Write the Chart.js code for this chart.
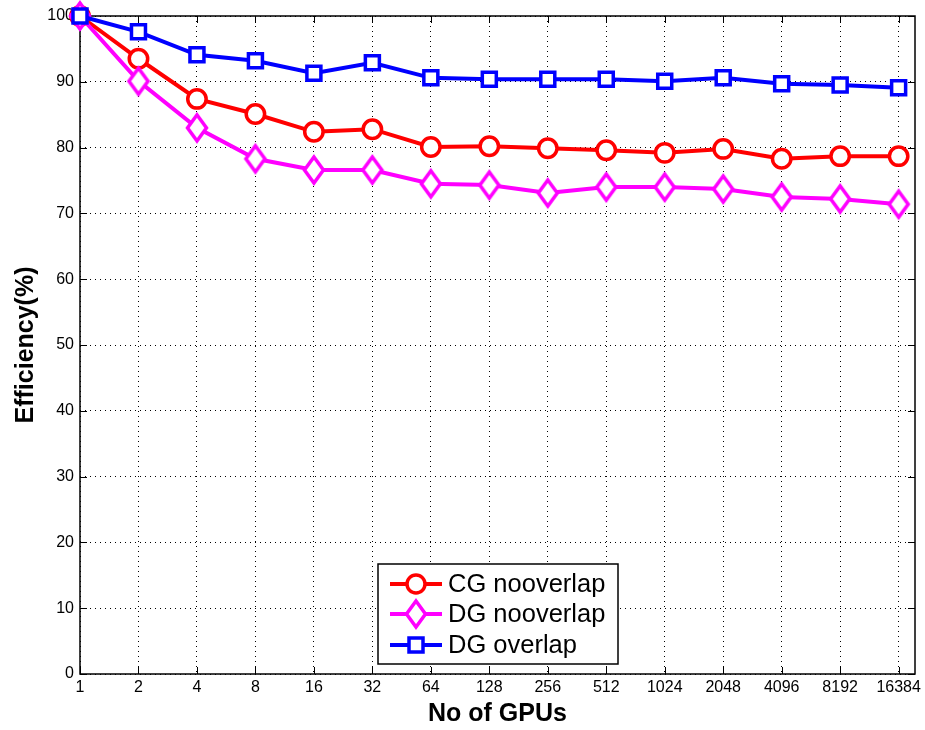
<!DOCTYPE html>
<html>
<head>
<meta charset="utf-8">
<script src="https://cdn.jsdelivr.net/npm/chart.js@4/dist/chart.umd.min.js"></script>
<style>
  body { margin: 0; background: #fff; }
  canvas { display: block; }
</style>
</head>
<body>
<canvas id="grafico" width="925" height="730"></canvas>
<script>
// dados
const gpus = ['1', '2', '4', '8', '16', '32', '64', '128', '256', '512', '1024', '2048', '4096', '8192', '16384'];
const cgNoOverlap = [100, 93.5, 87.4, 85.1, 82.4, 82.8, 80.1, 80.2, 79.9, 79.6, 79.2, 79.8, 78.3, 78.7, 78.7];
const dgNoOverlap = [100, 90.1, 83.0, 78.3, 76.6, 76.6, 74.5, 74.3, 73.1, 74.0, 74.0, 73.7, 72.5, 72.2, 71.4];
const dgOverlap = [100, 97.6, 94.1, 93.2, 91.3, 92.9, 90.6, 90.4, 90.4, 90.4, 90.1, 90.6, 89.7, 89.5, 89.1];
const yTicks = [0, 10, 20, 30, 40, 50, 60, 70, 80, 90, 100];

const FONT = "'Liberation Sans', Arial, sans-serif";

// losango alongado (estilo matlab)
function diamond(color) {
    const c = document.createElement('canvas');
    c.width = 28; c.height = 34;
    const g = c.getContext('2d');
    g.beginPath();
    g.moveTo(14, 4);
    g.lineTo(23.5, 17);
    g.lineTo(14, 30);
    g.lineTo(4.5, 17);
    g.closePath();
    g.fillStyle = '#fff';
    g.fill();
    g.lineWidth = 3.5;
    g.strokeStyle = color;
    g.stroke();
    return c;
}
const diamondImg = diamond('#ff00ff');

function pts(arr) {
    return arr.map((v, i) => ({ x: i, y: v }));
}

// moldura + marcas internas
const moldura = {
    id: 'moldura',
    beforeDatasetsDraw(chart) {
        const { ctx, chartArea: a, scales } = chart;
        ctx.save();
        ctx.strokeStyle = '#000';
        ctx.lineWidth = 1.5;
        ctx.strokeRect(a.left, a.top, a.right - a.left, a.bottom - a.top);
        ctx.lineWidth = 1;
        ctx.beginPath();
        gpus.forEach((g, i) => {
            const x = Math.round(scales.x.getPixelForValue(i)) + 0.5;
            ctx.moveTo(x, a.bottom); ctx.lineTo(x, a.bottom - 7);
            ctx.moveTo(x, a.top); ctx.lineTo(x, a.top + 7);
        });
        yTicks.forEach(v => {
            const y = Math.round(scales.y.getPixelForValue(v)) + 0.5;
            ctx.moveTo(a.left, y); ctx.lineTo(a.left + 7, y);
            ctx.moveTo(a.right, y); ctx.lineTo(a.right - 7, y);
        });
        ctx.stroke();
        ctx.restore();
    },
    afterDraw(chart) {
        // legenda dentro do grafico
        const ctx = chart.ctx;
        const box = { l: 378, t: 564, r: 618, b: 664 };
        ctx.save();
        ctx.fillStyle = '#fff';
        ctx.fillRect(box.l, box.t, box.r - box.l, box.b - box.t);
        ctx.strokeStyle = '#000';
        ctx.lineWidth = 1.5;
        ctx.strokeRect(box.l, box.t, box.r - box.l, box.b - box.t);
        const itens = [
            { label: 'CG nooverlap', color: '#ff0000', tipo: 'circle' },
            { label: 'DG nooverlap', color: '#ff00ff', tipo: 'diamond' },
            { label: 'DG overlap', color: '#0000ff', tipo: 'rect' }
        ];
        const ys = [584, 614, 645];
        itens.forEach((it, k) => {
            const y = ys[k];
            ctx.strokeStyle = it.color;
            ctx.lineWidth = 4;
            ctx.beginPath();
            ctx.moveTo(390, y); ctx.lineTo(442, y);
            ctx.stroke();
            ctx.lineWidth = 3.5;
            ctx.fillStyle = '#fff';
            if (it.tipo === 'circle') {
                ctx.beginPath();
                ctx.arc(416, y, 9, 0, Math.PI * 2);
                ctx.fill(); ctx.stroke();
            } else if (it.tipo === 'rect') {
                ctx.fillRect(409, y - 7, 14, 14);
                ctx.strokeRect(409, y - 7, 14, 14);
            } else {
                ctx.drawImage(diamondImg, 416 - 14, y - 17);
            }
            ctx.fillStyle = '#000';
            ctx.font = '25.5px ' + FONT;
            ctx.textBaseline = 'middle';
            ctx.fillText(it.label, 448, y + 1);
        });
        ctx.restore();
    }
};

const ctx = document.getElementById('grafico');
const myChart = new Chart(ctx, {
    type: 'line',
    data: {
        datasets: [
            {
                label: 'DG overlap',
                data: pts(dgOverlap),
                borderColor: '#0000ff',
                backgroundColor: '#fff',
                pointStyle: 'rect',
                pointRadius: 9.9,
                pointBorderWidth: 3.5,
                borderWidth: 4,
                order: 0,
                clip: false
            },
            {
                label: 'DG nooverlap',
                data: pts(dgNoOverlap),
                borderColor: '#ff00ff',
                backgroundColor: '#fff',
                pointStyle: diamondImg,
                pointRadius: 12,
                borderWidth: 4,
                order: 1,
                clip: false
            },
            {
                label: 'CG nooverlap',
                data: pts(cgNoOverlap),
                borderColor: '#ff0000',
                backgroundColor: '#fff',
                pointStyle: 'circle',
                pointRadius: 9.2,
                pointBorderWidth: 3.5,
                borderWidth: 4,
                order: 2,
                clip: false
            }
        ]
    },
    options: {
        responsive: false,
        animation: false,
        layout: { autoPadding: false, padding: { top: 16, right: 10, left: 0, bottom: 0 } },
        scales: {
            x: {
                type: 'linear',
                min: 0,
                max: 14.28,
                afterBuildTicks: axis => { axis.ticks = gpus.map((g, i) => ({ value: i })); },
                afterFit: scale => {
                    scale.height = 56;
                    scale.paddingRight = 0;
                    scale.paddingLeft = 0;
                },
                ticks: {
                    callback: v => gpus[v],
                    color: '#000',
                    font: { family: FONT, size: 16 },
                    padding: 4,
                    maxRotation: 0,
                    autoSkip: false
                },
                grid: { color: '#000', lineWidth: 1, drawTicks: false },
                border: { display: false, dash: [1, 4] },
                title: {
                    display: true,
                    text: 'No of GPUs',
                    color: '#000',
                    font: { family: FONT, size: 25, weight: 'bold' },
                    padding: { top: 0, bottom: 1 }
                }
            },
            y: {
                min: 0,
                max: 100,
                afterBuildTicks: axis => { axis.ticks = yTicks.map(v => ({ value: v })); },
                afterFit: scale => { scale.width = 80; },
                ticks: {
                    color: '#000',
                    font: { family: FONT, size: 16 },
                    padding: 6
                },
                grid: { color: '#000', lineWidth: 1, drawTicks: false },
                border: { display: false, dash: [1, 4] },
                title: {
                    display: true,
                    text: 'Efficiency(%)',
                    color: '#000',
                    font: { family: FONT, size: 25, weight: 'bold' },
                    padding: { top: 11, bottom: 0 }
                }
            }
        },
        plugins: {
            legend: { display: false },
            tooltip: { enabled: false }
        }
    },
    plugins: [moldura]
});
</script>
</body>
</html>
